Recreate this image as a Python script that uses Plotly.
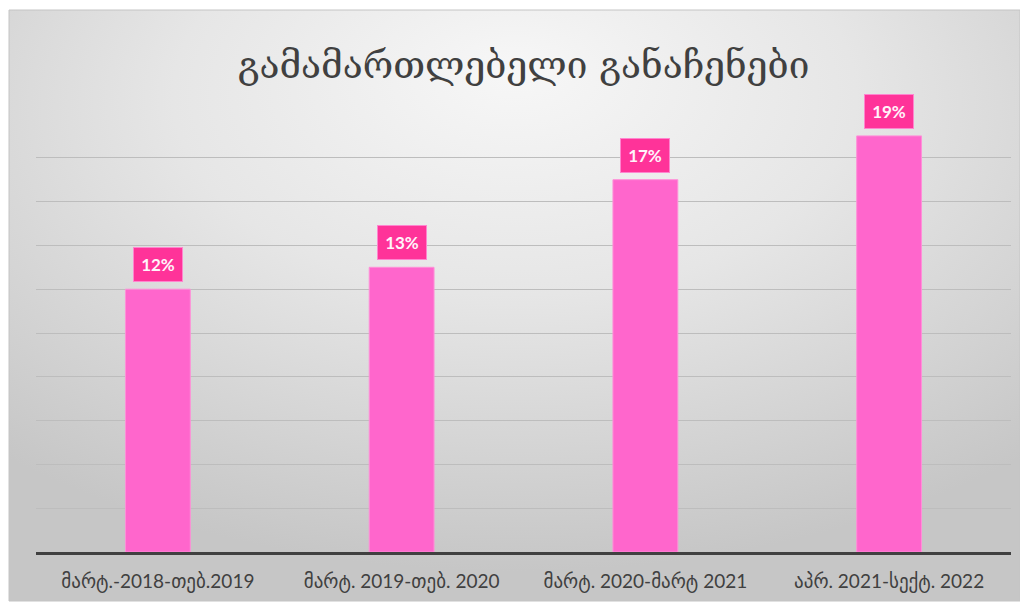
import base64
import plotly.graph_objects as go

title_text = "გამამართლებელი განაჩენები"
categories = ["მარტ.-2018-თებ.2019", "მარტ. 2019-თებ. 2020", "მარტ. 2020-მარტ 2021", "აპრ. 2021-სექტ. 2022"]
values = [0.12, 0.13, 0.17, 0.19]
labels = ["12%", "13%", "17%", "19%"]

# the page body adds an 8px offset, so the layout is shifted by it
OFF = 8
W, H = 1028, 603
L, R, T, B = 36 - OFF, 17 + OFF, 114 - OFF, 51 + OFF
pw, ph = W - L - R, H - T - B

def px_x(p):
    return (p - OFF - L) / pw

def px_y(p):
    return (H - B - (p - OFF)) / ph

svg = (
    '<svg xmlns="http://www.w3.org/2000/svg" width="1011" height="591" viewBox="0 0 1011 591" preserveAspectRatio="none">'
    '<defs><radialGradient id="g" cx="50%" cy="20%" r="75%" fx="50%" fy="10%">'
    '<stop offset="0" stop-color="#f7f7f7"/>'
    '<stop offset="0.45" stop-color="#e6e6e6"/>'
    '<stop offset="1" stop-color="#c6c6c6"/>'
    '</radialGradient></defs>'
    '<rect x="0" y="0" width="1011" height="591" fill="url(#g)"/>'
    '</svg>'
)
src = "data:image/svg+xml;base64," + base64.b64encode(svg.encode()).decode()

fig = go.Figure()
fig.add_trace(go.Bar(
    x=categories, y=values,
    marker=dict(color="#ff66cc", line=dict(color="#ff8fd8", width=1)),
    width=0.266,
    hoverinfo="skip",
))

for c, v, t in zip(categories, values, labels):
    fig.add_annotation(
        x=c, y=v, text="<b>" + t + "</b>", showarrow=False,
        yanchor="bottom", yshift=7,
        width=44, height=29,
        bgcolor="#ff3399", bordercolor="#ff85cf", borderwidth=1, borderpad=2,
        font=dict(family="Lato, Open Sans, sans-serif", size=17, color="#fff4fa"),
    )

fig.add_layout_image(
    source=src, xref="paper", yref="paper",
    x=px_x(9), y=px_y(10), sizex=px_x(1020) - px_x(9), sizey=px_y(10) - px_y(601),
    xanchor="left", yanchor="top", sizing="stretch", layer="below",
)
fig.add_shape(
    type="rect", xref="paper", yref="paper",
    x0=px_x(9), x1=px_x(1020), y0=px_y(601), y1=px_y(10),
    line=dict(color="#c4c4c4", width=1), fillcolor="rgba(0,0,0,0)", layer="below",
)

fig.update_layout(
    width=W, height=H,
    margin=dict(l=L, r=R, t=T, b=B, pad=0),
    paper_bgcolor="white", plot_bgcolor="rgba(0,0,0,0)",
    showlegend=False,
    title=dict(text=title_text, x=0.5, xref="paper", xanchor="center",
               y=(H - (65 - OFF)) / H, yanchor="middle",
               font=dict(family="DejaVu Serif, DejaVu Sans", size=37, color="#404040")),
    xaxis=dict(showgrid=False, showline=True, linecolor="#404040", linewidth=2.5,
               ticks="", tickfont=dict(family="Lato, DejaVu Sans", size=19, color="#404040"),
               ticklabelstandoff=10),
    yaxis=dict(range=[0, 0.20], dtick=0.02, showticklabels=False, showgrid=True,
               gridcolor="#bdbdbd", gridwidth=1.3, zeroline=False, showline=False, ticks=""),
)

fig.write_html("out.html")
